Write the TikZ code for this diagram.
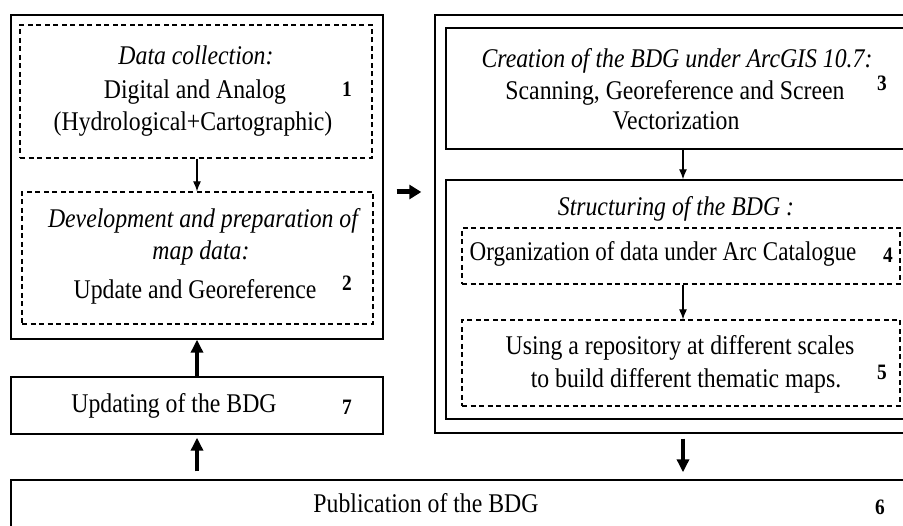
\documentclass[tikz,border=0pt]{standalone}
\usepackage{fontspec}
\setmainfont{Liberation Serif}[FakeStretch=0.88]
\usetikzlibrary{arrows.meta,fit}
\begin{document}
\begin{tikzpicture}[x=1pt,y=-1pt,
  solidbox/.style={draw, line width=1.4pt, inner sep=0pt},
  dashbox/.style={draw, line width=1.2pt, dash pattern=on 5pt off 3.5pt, inner sep=0pt},
  txt/.style={anchor=base, inner sep=0pt, font=\fontsize{27}{32}\selectfont},
  ttl/.style={anchor=base, inner sep=0pt, font=\fontsize{27}{32}\selectfont\itshape},
  num/.style={anchor=base, inner sep=0pt, font=\fontsize{22}{26}\selectfont\bfseries},
  thinarrow/.style={line width=1.2pt, -{Latex[length=10pt,width=8pt]}},
  thickarrow/.style={line width=4pt, -{Triangle[length=13pt,width=12pt]}},
  harrow/.style={line width=5pt, -{Triangle[length=12pt,width=14pt]}},
]
\useasboundingbox (0,0) rectangle (903,526);
\clip (0,0) rectangle (903,526);
\fill[white] (0,0) rectangle (903,526);

% boxes
\node[solidbox, fit={(11,15) (383,339)}] (L) {};
\node[dashbox, fit={(20,25) (372,158)}] (d1) {};
\node[dashbox, fit={(22,192) (373,324)}] (d2) {};
\node[solidbox, fit={(11,377) (383,434)}] (b7) {};
\node[solidbox, fit={(11,480) (925,545)}] (pub) {};
\node[solidbox, fit={(435,15) (925,433)}] (R) {};
\node[solidbox, fit={(446,28) (925,149)}] (b3) {};
\node[solidbox, fit={(446,180) (925,419)}] (S) {};
\node[dashbox, fit={(462,228) (900,284)}] (d4) {};
\node[dashbox, fit={(462,320) (900,406)}] (d5) {};

% texts box 1
\node[ttl] (t1a) at (196,65) {Data collection:};
\node[txt] (t1b) at (195,99) {Digital and Analog};
\node[txt] (t1c) at (193,131) {(Hydrological+Cartographic)};
\node[num] (n1) at (347,97) {1};

% box 2
\node[ttl] (t2a) at (203,228) {Development and preparation of};
\node[ttl] (t2b) at (201,260) {map data:};
\node[txt] (t2c) at (195,299) {Update and Georeference};
\node[num] (n2) at (347,291) {2};

% box 7
\node[txt] (t7) at (174,413) {Updating of the BDG};
\node[num] (n7) at (347,415) {7};

% publication
\node[txt] (t6) at (426,513) {Publication of the BDG};
\node[num] (n6) at (880,515) {6};

% box 3
\node[ttl] (t3a) at (677,68) {Creation of the BDG under ArcGIS 10.7:};
\node[txt] (t3b) at (675,100) {Scanning, Georeference and Screen};
\node[txt] (t3c) at (676,130) {Vectorization};
\node[num] (n3) at (882,91) {3};

% structuring
\node[ttl] (tS) at (676,216) {Structuring of the BDG :};
\node[txt] (t4) at (663,261) {\scalebox{0.97}[1]{Organization of data under Arc Catalogue}};
\node[num] (n4) at (888,263) {4};
\node[txt] (t5a) at (680,355) {Using a repository at different scales};
\node[txt] (t5b) at (686,388) {to build different thematic maps.};
\node[num] (n5) at (882,380) {5};

% connectors
\coordinate (lc) at (197,0);
\coordinate (rc) at (683,0);
\coordinate (my) at (0,192);
\draw[thinarrow] (d1.south -| lc) -- (d2.north -| lc);
\draw[thickarrow] (b7.north -| lc) -- (L.south -| lc);
\draw[thickarrow, shorten <=8pt, shorten >=3pt] (pub.north -| lc) -- (b7.south -| lc);
\draw[harrow, shorten <=13pt, shorten >=13pt] (L.east |- my) -- (R.west |- my);
\draw[thinarrow] (b3.south -| rc) -- (S.north -| rc);
\draw[thinarrow] (d4.south -| rc) -- (d5.north -| rc);
\draw[thickarrow, shorten <=5pt, shorten >=7pt] (R.south -| rc) -- (pub.north -| rc);
\end{tikzpicture}
\end{document}
